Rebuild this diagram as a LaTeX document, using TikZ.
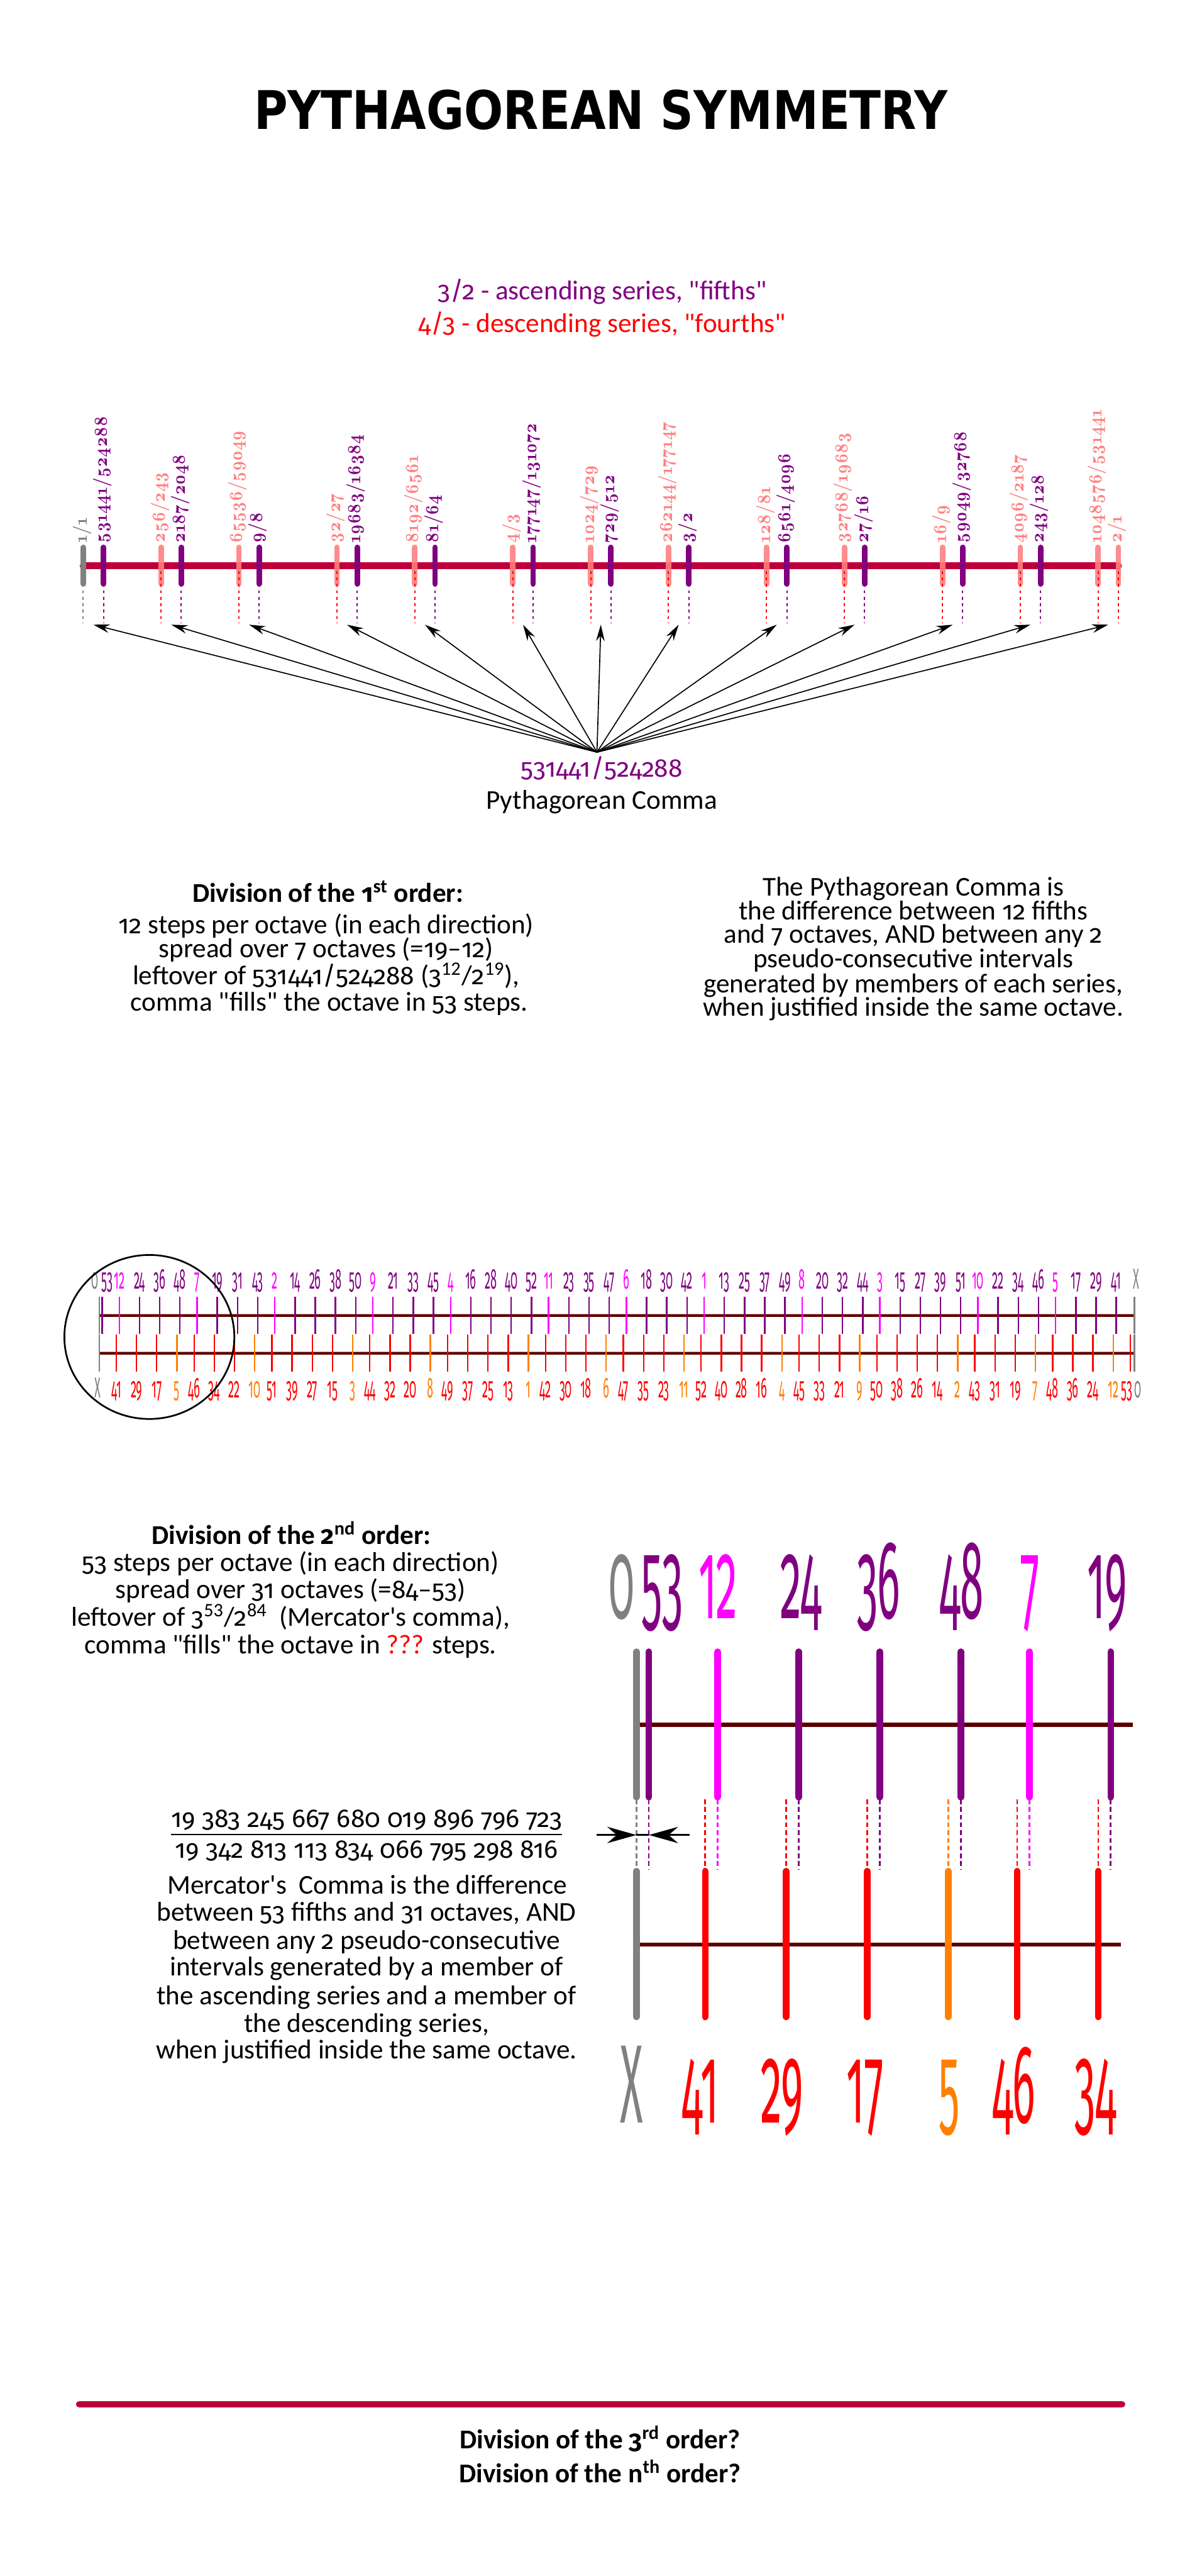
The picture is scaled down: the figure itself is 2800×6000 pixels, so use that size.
\documentclass[tikz,border=0pt]{standalone}
\usepackage{fontspec}
\usepackage{graphicx}
\setmainfont{Carlito}[Ligatures=TeXOff]
\newfontfamily\titlefont{DejaVu Sans}
\newfontfamily\lmoldb{lmroman10-bold.otf}[Numbers=OldStyle]
\newfontfamily\firaon{Fira Sans}[Numbers=OldStyle, Ligatures=TeXOff]
\newcommand\on[1]{{\firaon\fontsize{17}{20}\selectfont #1}}
\usetikzlibrary{arrows.meta}
\definecolor{crim}{RGB}{190,0,58}
\definecolor{purp}{RGB}{128,0,128}
\definecolor{pinkk}{RGB}{255,128,128}
\definecolor{magen}{RGB}{255,0,255}
\definecolor{orng}{RGB}{255,128,0}
\definecolor{redd}{RGB}{255,0,0}
\definecolor{grayy}{RGB}{128,128,128}
\definecolor{maroonn}{RGB}{90,0,0}
\definecolor{rim}{RGB}{205,150,150}
\begin{document}
\begin{tikzpicture}[x=0.1mm,y=-0.1mm,
  body/.style={font=\fontsize{18}{22}\selectfont, anchor=base, inner sep=0pt},
  bodyb/.style={font=\fontsize{18}{22}\selectfont\bfseries, anchor=base, inner sep=0pt},
  rlab/.style={rotate=90, anchor=mid west, inner sep=0pt, font=\lmoldb\fontsize{10.7}{13}\selectfont},
  tickA/.style={line width=1.3mm, line cap=round},
  dashA/.style={line width=0.3mm, dash pattern=on 0.7mm off 0.8mm},
  fan/.style={line width=0.7pt, -{Stealth[length=3.8mm,width=2mm]}},
  tickB/.style={line width=0.35mm},
  labB/.style={anchor=base, inner sep=0pt, font=\firaon\fontsize{19}{24}\selectfont},
  tickC/.style={line width=1.5mm, line cap=round},
  dashC/.style={line width=0.35mm, dash pattern=on 1.1mm off 0.7mm},
  labC/.style={anchor=base, inner sep=0pt, font=\firaon\fontsize{74}{90}\selectfont},
  dimarrow/.style={line width=0.4mm, -{Stealth[length=6.8mm,width=3.8mm]}}
]
\useasboundingbox (0,0) rectangle (2800,6000);
\fill[white] (0,0) rectangle (2800,6000);

% ---------- title ----------
\node[anchor=base, inner sep=0pt] (title) at (1400,301)
  {\resizebox{161.6mm}{9.2mm}{\titlefont\bfseries PYTHAGOREAN SYMMETRY}};

\node[body, text=purp] (asc) at (1403,698) {\on{3/2} - ascending series, "fifths"};
\node[body, text=redd] (desc) at (1403,774) {\on{4/3} - descending series, "fourths"};

% ---------- first order line ----------
\draw[line width=1.6mm, crim, line cap=round] (194,1318) -- (2606,1318);
% gray 1/1
\draw[tickA, grayy] (194,1275) -- (194,1360);
\draw[dashA, grayy] (194,1330) -- (194,1452);
\node[rlab, text=grayy] (g11) at (194,1265) {\scalebox{1}[1.15]{1/1}};
% ascending (purple)
\foreach \x/\n/\d [count=\i] in {241.2/531441/524288, 422.5/2187/2048, 603.9/9/8,
   832.4/19683/16384, 1013.7/81/64, 1242.2/177147/131072, 1423.6/729/512,
   1604.9/3/2, 1833.4/6561/4096, 2014.8/27/16, 2243.3/59049/32768, 2424.6/243/128}{
  \draw[tickA, purp] (\x,1275) -- (\x,1360);
  \draw[dashA, purp] (\x,1330) -- (\x,1452);
  \node[rlab, text=purp] (a\i) at (\x,1265) {\scalebox{1}[1.15]{\n/\d}};
}
% descending (pink)
\foreach \x/\n/\d [count=\i] in {375.4/256/243, 556.7/65536/59049, 785.2/32/27,
   966.6/8192/6561, 1195.1/4/3, 1376.4/1024/729, 1557.8/262144/177147,
   1786.3/128/81, 1967.6/32768/19683, 2196.2/16/9, 2377.5/4096/2187,
   2558.8/1048576/531441, 2606/2/1}{
  \draw[tickA, pinkk, opacity=0.9] (\x,1275) -- (\x,1360);
  \draw[dashA, redd] (\x,1330) -- (\x,1452);
  \node[rlab, text=pinkk] (d\i) at (\x,1265) {\scalebox{1}[1.15]{\n/\d}};
}
% fan of arrows
\coordinate (apex) at (1391,1752);
\foreach \m [count=\i] in {217.6,399,580.3,808.8,990.2,1218.7,1400,1581.4,1809.9,1991.2,2219.8,2401,2582.4}{
  \coordinate (m\i) at (\m,1455);
  \draw[fan] (apex) -- (m\i);
}
\node[body, text=purp] (pc) at (1402,1810) {\on{531441/524288}};
\node[body] (pcn) at (1402,1885) {Pythagorean Comma};

% ---------- text blocks 1 ----------
\node[bodyb] (d1t) at (764,2102) {Division of the \on{1}\textsuperscript{st} order:};
\node[body] (d1a) at (760,2175) {\on{12} steps per octave (in each direction)};
\node[body] (d1b) at (760,2230) {spread over \on{7} octaves (=\on{19}–\on{12})};
\node[body] (d1c) at (760,2293) {leftover of \on{531441/524288} (\on{3}\textsuperscript{12}/\on{2}\textsuperscript{19}),};
\node[body] (d1d) at (767,2355) {comma "fills" the octave in \on{53} steps.};

\node[body] (r1) at (2128,2086) {The Pythagorean Comma is};
\node[body] (r2) at (2128,2142) {the difference between \on{12} fifths};
\node[body] (r3) at (2128,2197) {and \on{7} octaves, AND between any \on{2}};
\node[body] (r4) at (2128,2253) {pseudo-consecutive intervals};
\node[body] (r5) at (2128,2312) {generated by members of each series,};
\node[body] (r6) at (2128,2367) {when justified inside the same octave.};

% ---------- 53 line ----------
\foreach \yy in {3064,3152}{
  \draw[line width=0.75mm, rim] (231,\yy) -- (2643,\yy);
  \draw[line width=0.55mm, maroonn] (231,\yy) -- (2643,\yy);
}
\draw[tickB, grayy] (231,3020) -- (231,3107);
\draw[tickB, grayy] (231,3109) -- (231,3195);
\draw[tickB, grayy] (2643,3020) -- (2643,3107);
\draw[tickB, grayy] (2643,3109) -- (2643,3195);
\node[labB, text=grayy] (t0) at (221,3002) {\scalebox{0.4}[1]{0}};
\node[labB, text=grayy] (tX) at (2647,3002) {\scalebox{0.4}[1]{X}};
\node[labB, text=grayy] (bX) at (228,3255) {\scalebox{0.4}[1]{X}};
\node[labB, text=grayy] (b0) at (2652,3255) {\scalebox{0.4}[1]{0}};
\foreach \k in {1,...,53}{
  \pgfmathsetmacro\ff{\k*0.5849625-floor(\k*0.5849625)}
  \pgfmathsetmacro\xt{231+2410*\ff}
  \pgfmathsetmacro\xb{231+2410*(1-\ff)}
  \ifnum\k<13 \def\tc{magen}\def\bc{orng}\else\def\tc{purp}\def\bc{redd}\fi
  \ifnum\k=53 \def\dt{11}\def\db{-8}\else\def\dt{0}\def\db{0}\fi
  \draw[tickB, \tc] (\xt,3020) -- (\xt,3107);
  \draw[tickB, \bc] (\xb,3109) -- (\xb,3195);
  \node[labB, text=\tc] (ta\k) at (\xt+\dt,3002) {\scalebox{0.4}[1]{\k}};
  \node[labB, text=\bc] (ba\k) at (\xb+\db,3255) {\scalebox{0.4}[1]{\k}};
}
\draw[line width=0.4mm] (348,3114) ellipse [x radius=198, y radius=191];

% ---------- text block 2 ----------
\node[bodyb] (d2t) at (679,3597) {Division of the \on{2}\textsuperscript{nd} order:};
\node[body] (d2a) at (677,3660) {\on{53} steps per octave (in each direction)};
\node[body] (d2b) at (677,3723) {spread over \on{31} octaves (=\on{84}–\on{53})};
\node[body] (d2c) at (677,3787) {leftover of \on{3}\textsuperscript{53}/\on{2}\textsuperscript{84}\ \ (Mercator's comma),};
\node[body] (d2d) at (677,3852) {comma "fills" the octave in \textcolor{redd}{???} steps.};

\node[body] (num) at (854,4256) {\on{19 383 245 667 680 019 896 796 723}};
\draw[line width=0.4mm] (398,4273) -- (1310,4273);
\node[body] (den) at (854,4328) {\on{19 342 813 113 834 066 795 298 816}};
\node[body] (mc1) at (856,4411) {Mercator's\ \ Comma is the difference};
\node[body] (mc2) at (854,4474) {between \on{53} fifths and \on{31} octaves, AND};
\node[body] (mc3) at (854,4540) {between any \on{2} pseudo-consecutive};
\node[body] (mc4) at (854,4602) {intervals generated by a member of};
\node[body] (mc5) at (854,4669) {the ascending series and a member of};
\node[body] (mc6) at (854,4733) {the descending series,};
\node[body] (mc7) at (854,4795) {when justified inside the same octave.};

% ---------- detail ----------
\draw[line width=0.95mm, maroonn] (1483,4017) -- (2640,4017);
\draw[line width=0.95mm, maroonn] (1483,4529) -- (2612,4529);
\draw[tickC, grayy] (1483,3847) -- (1483,4186);
\draw[tickC, grayy] (1483,4358) -- (1483,4698);
\draw[dashC, grayy] (1483,4191) -- (1483,4354);
\node[labC, text=grayy] (c0) at (1449,3769) {\scalebox{0.38}[1]{0}};
\node[labC, text=grayy] (cX) at (1472,4944) {\scalebox{0.38}[1]{X}};
\foreach \x/\n/\c/\lx in {1512.1/53/purp/1543, 1672/12/magen/1673, 1861/24/purp/1866,
   2050/36/purp/2047, 2239/48/purp/2240, 2398.8/7/magen/2401, 2587.8/19/purp/2580}{
  \draw[tickC, \c] (\x,3847) -- (\x,4186);
  \draw[dashC, \c] (\x,4191) -- (\x,4354);
  \node[labC, text=\c] (ct\n) at (\lx,3769) {\scalebox{0.38}[1]{\n}};
}
\foreach \x/\n/\c/\lx in {1643/41/redd/1632, 1831.9/29/redd/1822, 2020.9/17/redd/2016,
   2209.8/5/orng/2212, 2369.7/46/redd/2362, 2558.7/34/redd/2553}{
  \draw[tickC, \c] (\x,4358) -- (\x,4698);
  \draw[dashC, \c] (\x,4191) -- (\x,4354);
  \node[labC, text=\c] (cb\n) at (\lx,4944) {\scalebox{0.38}[1]{\n}};
}
\coordinate (dl) at (1390,4274);
\coordinate (dg) at (1483,4274);
\coordinate (dp) at (1512,4274);
\coordinate (dr) at (1607,4274);
\draw[dimarrow] (dl) -- (dg);
\draw[dimarrow] (dr) -- (dp);
\draw[line width=0.4mm] (dg) -- (dp);

% ---------- bottom ----------
\draw[line width=1.6mm, crim, line cap=round] (185,5600) -- (2614,5600);
\node[bodyb] (d3) at (1398,5703) {Division of the \on{3}\textsuperscript{rd} order?};
\node[bodyb] (dn) at (1398,5783) {Division of the n\textsuperscript{th} order?};
\end{tikzpicture}
\end{document}
